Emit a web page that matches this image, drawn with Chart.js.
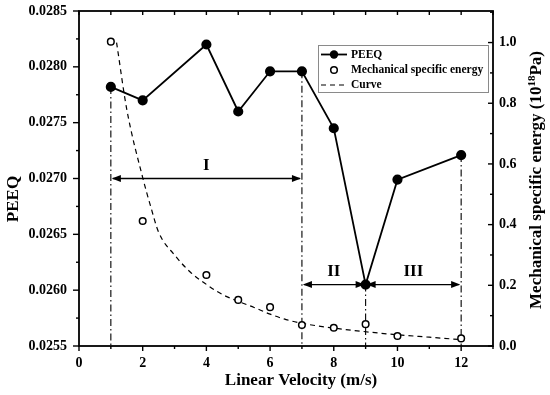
<!DOCTYPE html>
<html><head><meta charset="utf-8">
<script src="https://cdn.jsdelivr.net/npm/chart.js@4"></script>
<style>html,body{margin:0;padding:0;background:#fff}#wrap{width:550px;height:395px;position:relative}</style>
</head><body><div id="wrap"><canvas id="c"></canvas></div>
<script>
const velocities = [1, 2, 4, 5, 6, 7, 8, 9, 10, 12];
const peeq = [0.02782, 0.02770, 0.02820, 0.02760, 0.02796, 0.02796, 0.02745, 0.02605, 0.02699, 0.02721];
const mse = [1.003, 0.412, 0.234, 0.152, 0.128, 0.069, 0.060, 0.072, 0.033, 0.025];
const curveX = [1.18, 1.5, 2.0, 2.25, 2.5, 3.0, 3.5, 4.0, 4.5, 5.0, 5.5, 6.0, 6.5, 7.0, 7.5, 8.0, 9.0, 10.0, 11.0, 12.0];
const curveY = [1.00, 0.78, 0.555, 0.46, 0.375, 0.30, 0.243, 0.203, 0.170, 0.147, 0.127, 0.105, 0.087, 0.075, 0.066, 0.059, 0.047, 0.037, 0.029, 0.021];
const xTickLabels = [0, 2, 4, 6, 8, 10, 12];
const leftTickLabels = ['0.0255','0.0260','0.0265','0.0270','0.0275','0.0280','0.0285'];
const rightTickLabels = ['0.0','0.2','0.4','0.6','0.8','1.0'];
const markerX = [1, 7, 9, 12];
const regionNames = ['I', 'II', 'III'];
const regionFrom = [1, 7, 9];
const regionTo = [7, 9, 12];
const regionLevel = [0.0270, 0.02605, 0.02605];
const legendLabels = ['PEEQ', 'Mechanical specific energy', 'Curve'];

const SERIF = '"Liberation Serif", "Times New Roman", serif';
const tickFont = {family: 'Liberation Serif', size: 14, weight: 'bold'};

function peeqAt(x){ const i = velocities.indexOf(x); return peeq[i]; }

const overlay = {
  id: 'overlay',
  beforeDatasetsDraw(chart){
    const ctx = chart.ctx, xs = chart.scales.x, y = chart.scales.y;
    const bottom = chart.chartArea.bottom;
    ctx.save();
    ctx.strokeStyle = '#000'; ctx.lineWidth = 1.1;
    ctx.setLineDash([7,3,1.5,3]);
    markerX.forEach(v => {
      const px = xs.getPixelForValue(v);
      ctx.beginPath(); ctx.moveTo(px, y.getPixelForValue(peeqAt(v))); ctx.lineTo(px, bottom); ctx.stroke();
    });
    ctx.setLineDash([]);
    regionNames.forEach((name, i) => {
      const x1 = xs.getPixelForValue(regionFrom[i]), x2 = xs.getPixelForValue(regionTo[i]);
      const py = y.getPixelForValue(regionLevel[i]);
      ctx.lineWidth = 1.3;
      ctx.beginPath(); ctx.moveTo(x1 + 2, py); ctx.lineTo(x2 - 2, py); ctx.stroke();
      const head = (tip, dir) => {
        ctx.beginPath(); ctx.moveTo(tip, py); ctx.lineTo(tip - dir*9, py - 3.5); ctx.lineTo(tip - dir*9, py + 3.5); ctx.closePath(); ctx.fill();
      };
      ctx.fillStyle = '#000';
      head(x1 + 1, -1); head(x2 - 1, 1);
      ctx.font = 'bold 17px ' + SERIF;
      ctx.textAlign = 'center'; ctx.textBaseline = 'middle';
      ctx.fillText(name, (x1 + x2) / 2, py - 13);
    });
    ctx.restore();
  },
  afterDraw(chart){
    const ctx = chart.ctx, a = chart.chartArea;
    const xs = chart.scales.x, y = chart.scales.y, y2 = chart.scales.y2;
    ctx.save();
    ctx.strokeStyle = '#000'; ctx.lineWidth = 1.8; ctx.setLineDash([]);
    ctx.strokeRect(a.left, a.top, a.right - a.left, a.bottom - a.top);
    ctx.lineWidth = 1.4;
    for (let v = 0; v <= 13; v++) {
      const px = xs.getPixelForValue(v);
      const major = v % 2 === 0;
      ctx.beginPath(); ctx.moveTo(px, a.bottom); ctx.lineTo(px, a.bottom + (major ? 5 : 3)); ctx.stroke();
      ctx.beginPath(); ctx.moveTo(px, a.top); ctx.lineTo(px, a.top + 4); ctx.stroke();
    }
    for (let k = 0; k <= 12; k++) {
      const v = 0.0255 + k * 0.00025;
      const py = y.getPixelForValue(v);
      ctx.beginPath(); ctx.moveTo(a.left, py); ctx.lineTo(a.left - (k % 2 === 0 ? 6 : 3), py); ctx.stroke();
    }
    for (let k = 0; k <= 11; k++) {
      const py = y2.getPixelForValue(k * 0.1);
      ctx.beginPath(); ctx.moveTo(a.right, py); ctx.lineTo(a.right - (k % 2 === 0 ? 5 : 3), py); ctx.stroke();
    }
    const lx = 318, ly = 45, lw = 170, lh = 47;
    ctx.lineWidth = 1; ctx.strokeStyle = '#8a8a8a';
    ctx.strokeRect(lx + 0.5, ly + 0.5, lw, lh);
    const rows = [54.5, 70, 85];
    ctx.strokeStyle = '#000'; ctx.fillStyle = '#000';
    ctx.lineWidth = 1.8;
    ctx.beginPath(); ctx.moveTo(321, rows[0]); ctx.lineTo(347, rows[0]); ctx.stroke();
    ctx.beginPath(); ctx.arc(334, rows[0], 4.2, 0, Math.PI*2); ctx.fill();
    ctx.lineWidth = 1.5;
    ctx.beginPath(); ctx.arc(334, rows[1], 3.3, 0, Math.PI*2); ctx.fillStyle = '#fff'; ctx.fill(); ctx.stroke();
    ctx.fillStyle = '#000';
    ctx.lineWidth = 1.2; ctx.setLineDash([5,4]);
    ctx.beginPath(); ctx.moveTo(321, rows[2]); ctx.lineTo(347, rows[2]); ctx.stroke();
    ctx.setLineDash([]);
    ctx.font = 'bold 11.5px ' + SERIF; ctx.textAlign = 'left'; ctx.textBaseline = 'middle';
    legendLabels.forEach((t, i) => ctx.fillText(t, 351, rows[i] + 0.5));
    ctx.font = 'bold 17px ' + SERIF; ctx.textAlign = 'center'; ctx.textBaseline = 'middle';
    ctx.fillText('Linear Velocity (m/s)', 301, 381);
    ctx.save(); ctx.translate(14, 199); ctx.rotate(-Math.PI/2); ctx.fillText('PEEQ', 0, 0); ctx.restore();
    ctx.save(); ctx.translate(537, 180); ctx.rotate(-Math.PI/2);
    const p1 = 'Mechanical specific energy (10', sup = '18', p2 = 'Pa)';
    ctx.font = 'bold 17px ' + SERIF; const w1 = ctx.measureText(p1).width, w3 = ctx.measureText(p2).width;
    ctx.font = 'bold 11px ' + SERIF; const w2 = ctx.measureText(sup).width;
    let sx = -(w1 + w2 + w3) / 2;
    ctx.textAlign = 'left';
    ctx.font = 'bold 17px ' + SERIF; ctx.fillText(p1, sx, 0); sx += w1;
    ctx.font = 'bold 11px ' + SERIF; ctx.fillText(sup, sx, -5); sx += w2;
    ctx.font = 'bold 17px ' + SERIF; ctx.fillText(p2, sx, 0);
    ctx.restore();
    ctx.restore();
  }
};

new Chart(document.getElementById('c'), {
  type: 'line',
  data: {
    datasets: [
      {label: 'PEEQ', data: velocities.map((v, i) => ({x: v, y: peeq[i]})), yAxisID: 'y',
       borderColor: '#000', backgroundColor: '#000', borderWidth: 1.8, pointRadius: 4.2, pointBackgroundColor: '#000', tension: 0},
      {label: 'Mechanical specific energy', data: velocities.map((v, i) => ({x: v, y: mse[i]})), yAxisID: 'y2',
       showLine: false, borderColor: '#000', pointBorderColor: '#000', pointBackgroundColor: '#fff', pointRadius: 3.3, pointBorderWidth: 1.5},
      {label: 'Curve', data: curveX.map((v, i) => ({x: v, y: curveY[i]})), yAxisID: 'y2',
       borderColor: '#000', borderWidth: 1.2, borderDash: [5, 4], pointRadius: 0, cubicInterpolationMode: 'monotone'}
    ]
  },
  options: {
    responsive: true, maintainAspectRatio: false, animation: false,
    layout: {padding: {top: 11, left: 0, right: 0, bottom: 0}},
    plugins: {legend: {display: false}, tooltip: {enabled: false}},
    scales: {
      x: {type: 'linear', min: 0, max: 13,
          grid: {display: false, drawTicks: false}, border: {display: false},
          afterFit: s => { s.height = 49; s.paddingLeft = 0; s.paddingRight = 0; },
          afterBuildTicks: s => { s.ticks = xTickLabels.map(v => ({value: v})); },
          ticks: {padding: 9, color: '#000', font: tickFont, maxRotation: 0, autoSkip: false, callback: v => String(v)}},
      y: {position: 'left', min: 0.0255, max: 0.0285,
          grid: {display: false, drawTicks: false}, border: {display: false},
          afterFit: s => { s.width = 79; s.paddingTop = 0; s.paddingBottom = 0; },
          afterBuildTicks: s => { s.ticks = leftTickLabels.map(t => ({value: parseFloat(t)})); },
          ticks: {padding: 12, color: '#000', font: tickFont, autoSkip: false, callback: (v, i) => leftTickLabels[i]}},
      y2: {position: 'right', min: 0, max: 1.104,
          grid: {display: false, drawTicks: false}, border: {display: false},
          afterFit: s => { s.width = 57; s.paddingTop = 0; s.paddingBottom = 0; },
          afterBuildTicks: s => { s.ticks = rightTickLabels.map(t => ({value: parseFloat(t)})); },
          ticks: {padding: 6, color: '#000', font: tickFont, autoSkip: false, callback: (v, i) => rightTickLabels[i]}}
    }
  },
  plugins: [overlay]
});
</script></body></html>
